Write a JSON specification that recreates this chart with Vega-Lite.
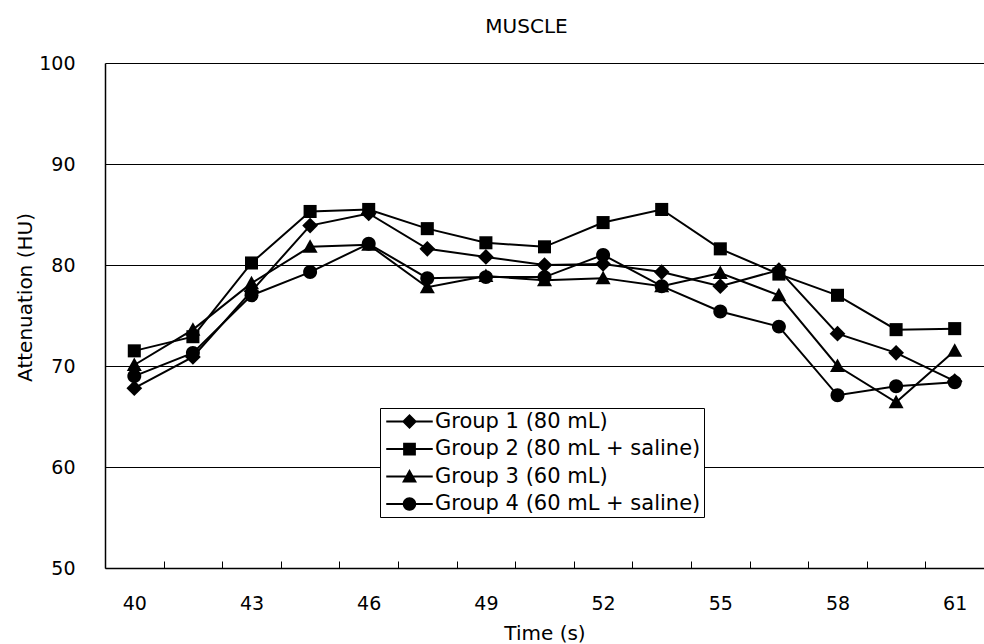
{
  "$schema": "https://vega.github.io/schema/vega-lite/v6.json",
  "width": 879,
  "height": 505,
  "autosize": {"type": "none"},
  "padding": {"left": 105, "top": 63, "right": 0, "bottom": 76},
  "background": "white",
  "title": {"text": "MUSCLE", "font": "DejaVu Sans", "fontSize": 20, "fontWeight": "normal", "color": "black", "anchor": "middle", "dx": -18, "offset": 17},
  "config": {
    "view": {"stroke": null},
    "font": "DejaVu Sans"
  },
  "data": {"values": [
    {"t": 40, "g": "Group 1 (80 mL)", "v": 67.8},
    {"t": 41.5, "g": "Group 1 (80 mL)", "v": 70.9},
    {"t": 43, "g": "Group 1 (80 mL)", "v": 77.4},
    {"t": 44.5, "g": "Group 1 (80 mL)", "v": 83.9},
    {"t": 46, "g": "Group 1 (80 mL)", "v": 85.1},
    {"t": 47.5, "g": "Group 1 (80 mL)", "v": 81.6},
    {"t": 49, "g": "Group 1 (80 mL)", "v": 80.8},
    {"t": 50.5, "g": "Group 1 (80 mL)", "v": 80.0},
    {"t": 52, "g": "Group 1 (80 mL)", "v": 80.1},
    {"t": 53.5, "g": "Group 1 (80 mL)", "v": 79.3},
    {"t": 55, "g": "Group 1 (80 mL)", "v": 77.9},
    {"t": 56.5, "g": "Group 1 (80 mL)", "v": 79.5},
    {"t": 58, "g": "Group 1 (80 mL)", "v": 73.2},
    {"t": 59.5, "g": "Group 1 (80 mL)", "v": 71.3},
    {"t": 61, "g": "Group 1 (80 mL)", "v": 68.5},
    {"t": 40, "g": "Group 2 (80 mL + saline)", "v": 71.5},
    {"t": 41.5, "g": "Group 2 (80 mL + saline)", "v": 72.9},
    {"t": 43, "g": "Group 2 (80 mL + saline)", "v": 80.2},
    {"t": 44.5, "g": "Group 2 (80 mL + saline)", "v": 85.3},
    {"t": 46, "g": "Group 2 (80 mL + saline)", "v": 85.5},
    {"t": 47.5, "g": "Group 2 (80 mL + saline)", "v": 83.6},
    {"t": 49, "g": "Group 2 (80 mL + saline)", "v": 82.2},
    {"t": 50.5, "g": "Group 2 (80 mL + saline)", "v": 81.8},
    {"t": 52, "g": "Group 2 (80 mL + saline)", "v": 84.2},
    {"t": 53.5, "g": "Group 2 (80 mL + saline)", "v": 85.5},
    {"t": 55, "g": "Group 2 (80 mL + saline)", "v": 81.6},
    {"t": 56.5, "g": "Group 2 (80 mL + saline)", "v": 79.1},
    {"t": 58, "g": "Group 2 (80 mL + saline)", "v": 77.0},
    {"t": 59.5, "g": "Group 2 (80 mL + saline)", "v": 73.6},
    {"t": 61, "g": "Group 2 (80 mL + saline)", "v": 73.7},
    {"t": 40, "g": "Group 3 (60 mL)", "v": 70.1},
    {"t": 41.5, "g": "Group 3 (60 mL)", "v": 73.6},
    {"t": 43, "g": "Group 3 (60 mL)", "v": 78.2},
    {"t": 44.5, "g": "Group 3 (60 mL)", "v": 81.8},
    {"t": 46, "g": "Group 3 (60 mL)", "v": 82.0},
    {"t": 47.5, "g": "Group 3 (60 mL)", "v": 77.8},
    {"t": 49, "g": "Group 3 (60 mL)", "v": 78.9},
    {"t": 50.5, "g": "Group 3 (60 mL)", "v": 78.5},
    {"t": 52, "g": "Group 3 (60 mL)", "v": 78.7},
    {"t": 53.5, "g": "Group 3 (60 mL)", "v": 77.9},
    {"t": 55, "g": "Group 3 (60 mL)", "v": 79.2},
    {"t": 56.5, "g": "Group 3 (60 mL)", "v": 77.0},
    {"t": 58, "g": "Group 3 (60 mL)", "v": 70.0},
    {"t": 59.5, "g": "Group 3 (60 mL)", "v": 66.4},
    {"t": 61, "g": "Group 3 (60 mL)", "v": 71.5},
    {"t": 40, "g": "Group 4 (60 mL + saline)", "v": 69.0},
    {"t": 41.5, "g": "Group 4 (60 mL + saline)", "v": 71.3},
    {"t": 43, "g": "Group 4 (60 mL + saline)", "v": 77.0},
    {"t": 44.5, "g": "Group 4 (60 mL + saline)", "v": 79.3},
    {"t": 46, "g": "Group 4 (60 mL + saline)", "v": 82.1},
    {"t": 47.5, "g": "Group 4 (60 mL + saline)", "v": 78.7},
    {"t": 49, "g": "Group 4 (60 mL + saline)", "v": 78.8},
    {"t": 50.5, "g": "Group 4 (60 mL + saline)", "v": 78.8},
    {"t": 52, "g": "Group 4 (60 mL + saline)", "v": 81.0},
    {"t": 53.5, "g": "Group 4 (60 mL + saline)", "v": 77.9},
    {"t": 55, "g": "Group 4 (60 mL + saline)", "v": 75.4},
    {"t": 56.5, "g": "Group 4 (60 mL + saline)", "v": 73.9},
    {"t": 58, "g": "Group 4 (60 mL + saline)", "v": 67.1},
    {"t": 59.5, "g": "Group 4 (60 mL + saline)", "v": 68.0},
    {"t": 61, "g": "Group 4 (60 mL + saline)", "v": 68.4}
  ]},
  "encoding": {
    "x": {
      "field": "t", "type": "quantitative",
      "scale": {"domain": [39.25, 61.75], "nice": false, "zero": false},
      "axis": {
        "title": "Time (s)",
        "values": [40, 41.5, 43, 44.5, 46, 47.5, 49, 50.5, 52, 53.5, 55, 56.5, 58, 59.5, 61],
        "tickOffset": 29.3,
        "labelOffset": -29.3,
        "labelExpr": "datum.value % 3 == 1 ? datum.label : ''",
        "labelOverlap": false,
        "labelFlush": false,
        "grid": false,
        "domainColor": "black",
        "domainWidth": 1.5,
        "tickColor": "black",
        "tickWidth": 1,
        "tickSize": -7,
        "labelFont": "DejaVu Sans",
        "labelFontSize": 19,
        "labelColor": "black",
        "labelPadding": 33,
        "titleFont": "DejaVu Sans",
        "titleFontSize": 20,
        "titleFontWeight": "normal",
        "titleColor": "black",
        "titleY": 55,
        "titleBaseline": "top"
      }
    },
    "y": {
      "field": "v", "type": "quantitative",
      "scale": {"domain": [50, 100], "nice": false, "zero": false},
      "axis": {
        "title": "Attenuation (HU)",
        "values": [50, 60, 70, 80, 90, 100],
        "grid": true,
        "gridColor": "black",
        "gridWidth": 1,
        "gridOpacity": 1,
        "ticks": false,
        "domainColor": "black",
        "domainWidth": 1.5,
        "labelFont": "DejaVu Sans",
        "labelFontSize": 19,
        "labelColor": "black",
        "labelPadding": 30,
        "titleFont": "DejaVu Sans",
        "titleFontSize": 20,
        "titleFontWeight": "normal",
        "titleColor": "black",
        "titleX": -70,
        "titleY": 234,
        "titleBaseline": "bottom"
      }
    }
  },
  "layer": [
    {
      "mark": {"type": "line", "color": "black", "strokeWidth": 2},
      "encoding": {"detail": {"field": "g", "type": "nominal"}}
    },
    {
      "mark": {"type": "point", "filled": true, "size": 225, "color": "black", "opacity": 1},
      "encoding": {
        "shape": {
          "field": "g", "type": "nominal",
          "scale": {
            "domain": ["Group 1 (80 mL)", "Group 2 (80 mL + saline)", "Group 3 (60 mL)", "Group 4 (60 mL + saline)"],
            "range": [
              "M0,-1.05L1.05,0L0,1.05L-1.05,0Z",
              "M-0.87,-0.87L0.87,-0.87L0.87,0.87L-0.87,0.87Z",
              "M0,-1L1,0.8L-1,0.8Z",
              "M-0.93,0A0.93,0.93,0,1,1,0.93,0A0.93,0.93,0,1,1,-0.93,0Z"
            ]
          },
          "legend": null
        }
      }
    },
    {
      "mark": {"type": "point", "filled": true, "size": 0, "color": "black", "opacity": 1},
      "encoding": {
        "shape": {
          "field": "g", "type": "nominal",
          "scale": {
            "domain": ["Group 1 (80 mL)", "Group 2 (80 mL + saline)", "Group 3 (60 mL)", "Group 4 (60 mL + saline)"],
            "range": [
              "M-3.1,-0.14L3.1,-0.14L3.1,0.14L-3.1,0.14ZM0,-1L1,0L0,1L-1,0Z",
              "M-3.1,-0.14L3.1,-0.14L3.1,0.14L-3.1,0.14ZM-0.85,-0.85L0.85,-0.85L0.85,0.85L-0.85,0.85Z",
              "M-3.1,-0.14L3.1,-0.14L3.1,0.14L-3.1,0.14ZM0,-1L1,0.8L-1,0.8Z",
              "M-3.1,-0.14L3.1,-0.14L3.1,0.14L-3.1,0.14ZM-0.9,0A0.9,0.9,0,1,1,0.9,0A0.9,0.9,0,1,1,-0.9,0Z"
            ]
          },
          "legend": {
            "title": null,
            "orient": "none",
            "legendX": 275,
            "legendY": 345,
            "padding": 3,
            "strokeColor": "black",
            "fillColor": "white",
            "labelFont": "DejaVu Sans",
            "labelFontSize": 21,
            "labelColor": "black",
            "labelLimit": 400,
            "rowPadding": 5.5,
            "symbolOffset": 16,
            "labelOffset": 15,
            "symbolSize": 225,
            "symbolOpacity": 1,
            "symbolFillColor": "black"
          }
        }
      }
    }
  ],
  "resolve": {"scale": {"shape": "independent"}}
}
